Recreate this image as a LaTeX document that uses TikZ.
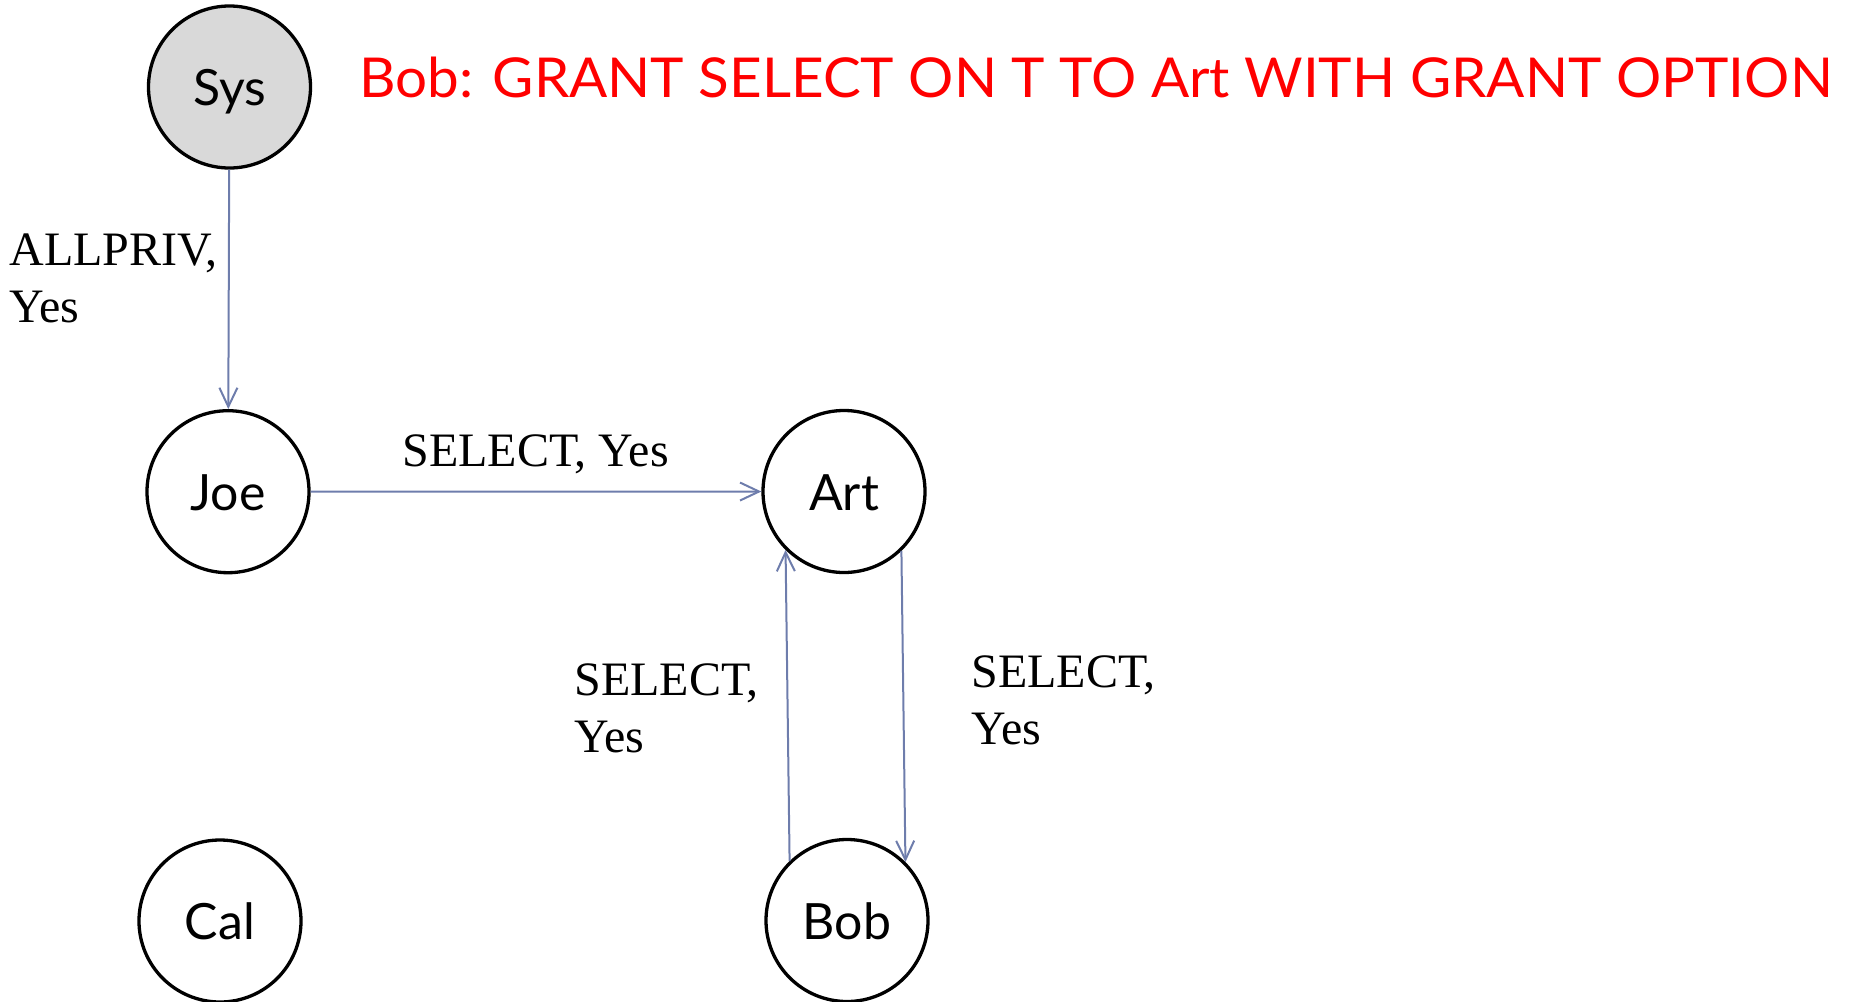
\documentclass[tikz,border=0pt]{standalone}
\usepackage{fontspec}
\usepackage{graphicx}
\setmainfont{Liberation Serif}
\newfontfamily\userfont{Lato}
\usetikzlibrary{arrows.meta}
\definecolor{edgeblue}{RGB}{110,125,172}
\definecolor{sysgray}{RGB}{217,217,217}
\definecolor{titlered}{RGB}{255,0,0}
\begin{document}
\begin{tikzpicture}[x=0.5pt,y=-0.5pt,
  user/.style={circle,draw=black,line width=1.65pt,minimum size=81pt,inner sep=0pt,
    text height=18.5pt,text depth=0pt,
    font=\userfont\fontsize{25}{30}\selectfont},
  grant/.style={draw=edgeblue,line width=1pt,-{Straight Barb[length=9.5pt,width=9pt]}},
  lbl/.style={inner sep=0pt,align=left,font=\fontsize{24}{28.5}\selectfont}]
\useasboundingbox (0,0) rectangle (1852,1001);

% users
\node[user,fill=sysgray] (sys) at (229.5,87) {Sys};
\node[user] (joe) at (228,491.7) {Joe};
\node[user] (art) at (844,491.5) {Art};
\node[user] (cal) at (220,921) {Cal};
\node[user] (bob) at (847,920.5) {Bob};

% grants
\draw[grant] (sys) -- (joe);
\draw[grant] (joe) -- (art);
\draw[grant] (bob.134.6) -- (art.225.7);
\draw[grant] (art.314.8) -- (bob.45.3);

% grant labels
\node[lbl,anchor=west] (lsysjoe) at (9,278) {ALLPRIV,\\Yes};
\node[lbl,anchor=base west] (ljoeart) at (402,466) {SELECT, Yes};
\node[lbl,anchor=west] (lbobart) at (574,708) {SELECT,\\Yes};
\node[lbl,anchor=west] (lartbob) at (971,700) {SELECT,\\Yes};

% statement being executed
\node[inner sep=0pt,anchor=base west,text=titlered,font=\userfont\fontsize{27.5}{32}\selectfont] (stmt) at (359,97.5)
  {\resizebox{736.5pt}{\height}{Bob: GRANT SELECT ON T TO Art WITH GRANT OPTION}};
\end{tikzpicture}
\end{document}
